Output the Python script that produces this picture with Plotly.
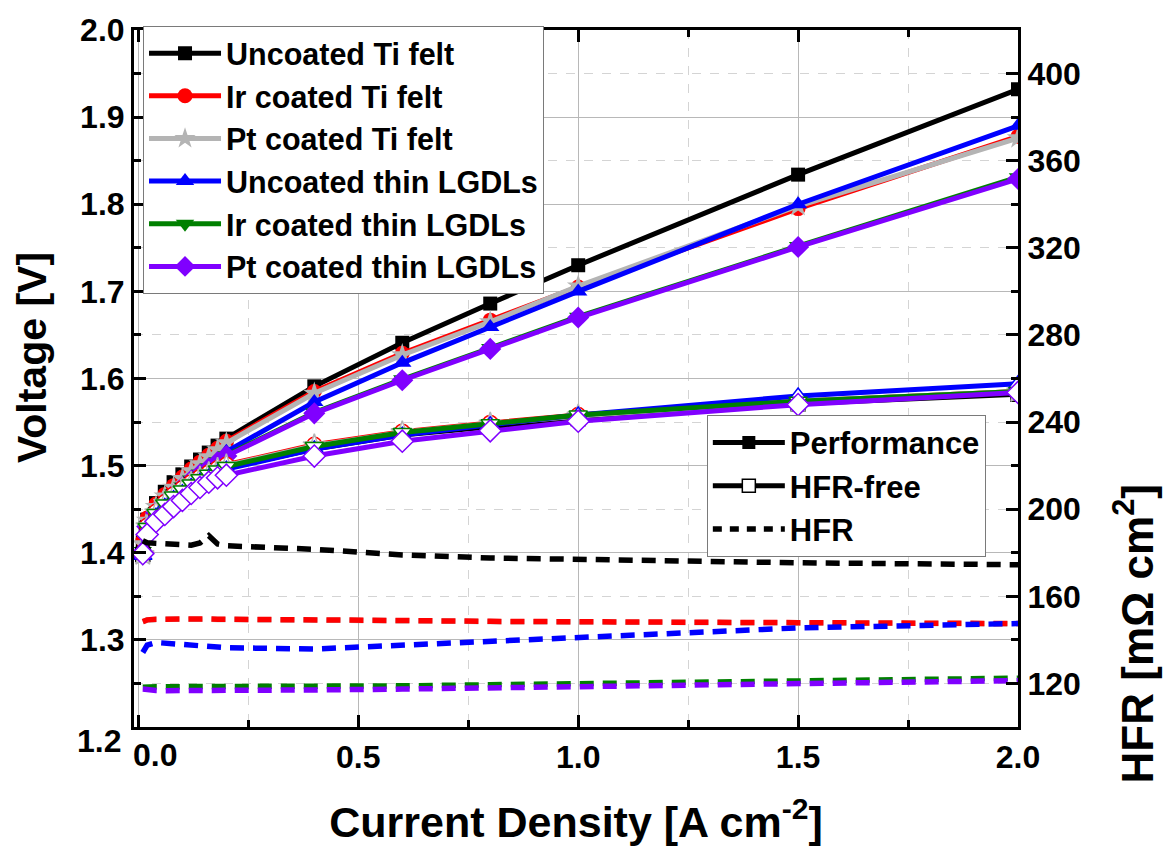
import plotly.graph_objects as go

# ---------------- data ----------------
current = [0.01, 0.02, 0.04, 0.06, 0.08, 0.10, 0.12, 0.14, 0.16, 0.18, 0.20,
           0.4, 0.6, 0.8, 1.0, 1.5, 2.0]

names = ["Uncoated Ti felt", "Ir coated Ti felt", "Pt coated Ti felt",
         "Uncoated thin LGDLs", "Ir coated thin LGDLs", "Pt coated thin LGDLs"]

x_tick_vals = [0.0, 0.5, 1.0, 1.5, 2.0]
x_tick_text = ["0.0", "0.5", "1.0", "1.5", "2.0"]
y_tick_vals = [1.2, 1.3, 1.4, 1.5, 1.6, 1.7, 1.8, 1.9, 2.0]
y_tick_text = ["1.2", "1.3", "1.4", "1.5", "1.6", "1.7", "1.8", "1.9", "2.0"]

# Performance (V)
uncoated_ti_perf = [1.412, 1.438, 1.457, 1.470, 1.481, 1.490, 1.499, 1.507, 1.515, 1.523, 1.531, 1.591, 1.641, 1.686, 1.730, 1.834, 1.932]
ir_ti_perf = [1.414, 1.440, 1.456, 1.467, 1.477, 1.487, 1.496, 1.504, 1.512, 1.520, 1.528, 1.585, 1.629, 1.667, 1.705, 1.795, 1.878]
pt_ti_perf = [1.410, 1.437, 1.453, 1.465, 1.475, 1.485, 1.494, 1.502, 1.510, 1.518, 1.526, 1.583, 1.627, 1.665, 1.706, 1.798, 1.876]
uncoated_lgdl_perf = [1.405, 1.432, 1.448, 1.459, 1.469, 1.477, 1.485, 1.492, 1.499, 1.506, 1.516, 1.573, 1.618, 1.659, 1.700, 1.800, 1.890]
ir_lgdl_perf = [1.402, 1.431, 1.447, 1.458, 1.468, 1.476, 1.484, 1.491, 1.498, 1.505, 1.512, 1.561, 1.599, 1.635, 1.671, 1.752, 1.831]
pt_lgdl_perf = [1.401, 1.430, 1.446, 1.457, 1.467, 1.475, 1.483, 1.490, 1.497, 1.504, 1.511, 1.560, 1.598, 1.634, 1.670, 1.751, 1.829]

# HFR-free voltage (V)
uncoated_ti_free = [1.398, 1.428, 1.444, 1.455, 1.464, 1.471, 1.478, 1.484, 1.489, 1.494, 1.497, 1.519, 1.535, 1.545, 1.554, 1.571, 1.582]
ir_ti_free = [1.399, 1.431, 1.447, 1.458, 1.467, 1.474, 1.481, 1.487, 1.492, 1.497, 1.501, 1.524, 1.539, 1.549, 1.558, 1.574, 1.585]
pt_ti_free = [1.398, 1.430, 1.446, 1.457, 1.466, 1.473, 1.480, 1.486, 1.491, 1.496, 1.500, 1.523, 1.538, 1.548, 1.557, 1.574, 1.585]
uncoated_lgdl_free = [1.397, 1.426, 1.442, 1.453, 1.462, 1.469, 1.476, 1.482, 1.487, 1.492, 1.496, 1.519, 1.535, 1.547, 1.558, 1.580, 1.594]
ir_lgdl_free = [1.396, 1.429, 1.445, 1.456, 1.465, 1.472, 1.479, 1.485, 1.490, 1.495, 1.499, 1.522, 1.538, 1.548, 1.558, 1.574, 1.585]
pt_lgdl_free = [1.399, 1.421, 1.436, 1.444, 1.453, 1.460, 1.468, 1.475, 1.481, 1.486, 1.489, 1.511, 1.528, 1.540, 1.551, 1.570, 1.584]

# HFR (mOhm cm2)
uncoated_ti_hfr = [185.5, 184.6, 184.3, 184.1, 183.9, 183.7, 183.5, 184.5, 187.8, 184.0, 183.2, 181.6, 179.0, 177.6, 176.8, 175.4, 174.5]
ir_ti_hfr = [148.4, 149.2, 149.5, 149.6, 149.6, 149.6, 149.6, 149.6, 149.6, 149.5, 149.5, 149.3, 148.9, 148.5, 148.2, 147.9, 147.5]
pt_ti_hfr = [148.3, 149.1, 149.4, 149.5, 149.5, 149.5, 149.5, 149.5, 149.5, 149.4, 149.4, 149.2, 148.8, 148.4, 148.1, 147.8, 147.4]
uncoated_lgdl_hfr = [134.2, 137.6, 138.8, 138.5, 138.0, 137.6, 137.2, 136.9, 136.7, 136.5, 136.4, 135.8, 137.5, 139.3, 141.0, 145.5, 147.5]
ir_lgdl_hfr = [118.2, 118.4, 118.5, 118.5, 118.5, 118.5, 118.5, 118.5, 118.5, 118.5, 118.5, 118.6, 118.9, 119.4, 119.9, 121.0, 122.4]
pt_lgdl_hfr = [117.4, 117.0, 116.8, 116.7, 116.7, 116.7, 116.7, 116.7, 116.7, 116.7, 116.7, 117.0, 117.4, 118.0, 118.7, 120.1, 121.3]

perf = [uncoated_ti_perf, ir_ti_perf, pt_ti_perf, uncoated_lgdl_perf, ir_lgdl_perf, pt_lgdl_perf]
free = [uncoated_ti_free, ir_ti_free, pt_ti_free, uncoated_lgdl_free, ir_lgdl_free, pt_lgdl_free]
hfr = [uncoated_ti_hfr, ir_ti_hfr, pt_ti_hfr, uncoated_lgdl_hfr, ir_lgdl_hfr, pt_lgdl_hfr]

colors = ["#000000", "#ff0000", "#b4b4b4", "#0000ff", "#008000", "#8000ff"]
symbols = ["square", "circle", "star", "triangle-up", "triangle-down", "diamond"]
msizes = [14, 15, 17, 16, 16, 17]

FONT = "Liberation Sans, Arial, sans-serif"

fig = go.Figure()

# HFR dashed lines (right axis); gray drawn first so red covers it
hfr_order = [2, 0, 1, 3, 4, 5]
for i in hfr_order:
    fig.add_trace(go.Scatter(
        x=current, y=hfr[i], yaxis="y2", mode="lines",
        line=dict(color=colors[i], width=5.5, dash="14px,9px"),
        showlegend=False, hoverinfo="skip"))

# Performance (filled markers)
for i in range(6):
    fig.add_trace(go.Scatter(
        x=current, y=perf[i], mode="lines+markers", name=names[i],
        line=dict(color=colors[i], width=5),
        marker=dict(symbol=symbols[i], size=msizes[i], color=colors[i]),
        legend="legend"))

# HFR-free (hollow markers)
for i in range(6):
    fig.add_trace(go.Scatter(
        x=current, y=free[i], mode="lines+markers",
        line=dict(color=colors[i], width=5),
        marker=dict(symbol=symbols[i], size=msizes[i], color="white",
                    line=dict(color=colors[i], width=1.5)),
        showlegend=False))

# Style legend (legend2)
fig.add_trace(go.Scatter(x=[None], y=[None], mode="lines+markers", name="Performance",
                         line=dict(color="black", width=5),
                         marker=dict(symbol="square", size=13, color="black"),
                         legend="legend2"))
fig.add_trace(go.Scatter(x=[None], y=[None], mode="lines+markers", name="HFR-free",
                         line=dict(color="black", width=5),
                         marker=dict(symbol="square", size=13, color="white",
                                     line=dict(color="black", width=1.5)),
                         legend="legend2"))
fig.add_trace(go.Scatter(x=[None], y=[None], mode="lines", name="HFR",
                         line=dict(color="black", width=5.5, dash="9px,8px"),
                         legend="legend2"))

axis_common = dict(
    showline=True, linecolor="black", linewidth=3,
    ticks="inside", tickwidth=2.5, ticklen=12, tickcolor="black",
    tickfont=dict(family=FONT, size=32, color="black", weight="bold"),
    zeroline=False,
)

fig.update_layout(
    width=1163, height=851,
    margin=dict(l=134, r=145, t=24, b=119),
    paper_bgcolor="white", plot_bgcolor="white",
    font=dict(family=FONT, color="black"),
    xaxis=dict(
        **axis_common,
        range=[-0.01, 2.0], tickmode="array",
        tickvals=x_tick_vals, ticktext=[""] + x_tick_text[1:],
        mirror="ticks",
        showgrid=True, gridcolor="#b8b8b8", gridwidth=1,
        minor=dict(dtick=0.25, tick0=0, ticks="inside", ticklen=7, tickwidth=2.5,
                   tickcolor="black", showgrid=True, gridcolor="#d4d4d4",
                   griddash="dash", gridwidth=1),
        title=dict(text="Current Density [A cm<sup>-2</sup>]", standoff=33,
                   font=dict(family=FONT, size=43, color="black", weight="bold")),
    ),
    yaxis=dict(
        **axis_common,
        range=[1.2, 2.0], tickmode="array",
        tickvals=y_tick_vals, ticktext=[""] + y_tick_text[1:],
        showgrid=True, gridcolor="#b8b8b8", gridwidth=1,
        minor=dict(dtick=0.05, tick0=1.2, ticks="inside", ticklen=7, tickwidth=2.5,
                   tickcolor="black", showgrid=False),
    ),
    yaxis2=dict(
        **axis_common,
        overlaying="y", side="right",
        range=[100, 420], dtick=40, tick0=0,
        showgrid=True, gridcolor="#d4d4d4", griddash="dash", gridwidth=1,
        minor=dict(dtick=20, tick0=0, ticks="inside", ticklen=7, tickwidth=2.5,
                   tickcolor="black", showgrid=False),
    ),
    legend=dict(
        x=0.0102, y=1.006, xanchor="left", yanchor="top",
        bgcolor="white", bordercolor="#7a7a7a", borderwidth=1,
        font=dict(family=FONT, size=30.5, color="black", weight="bold"),
        tracegroupgap=0, itemwidth=72,
    ),
    legend2=dict(
        x=0.648, y=0.448, xanchor="left", yanchor="top",
        bgcolor="white", bordercolor="#7a7a7a", borderwidth=1,
        font=dict(family=FONT, size=31, color="black", weight="bold"),
        tracegroupgap=0, itemwidth=72,
    ),
    annotations=[
        dict(text="Voltage [V]", xref="paper", yref="paper",
             x=-0.116, y=0.53, xanchor="center", yanchor="middle", textangle=-90,
             showarrow=False,
             font=dict(family=FONT, size=41, color="black", weight="bold")),
        dict(text="HFR [mΩ cm<sup>2</sup>]", xref="paper", yref="paper",
             x=1.131, y=0.134, xanchor="center", yanchor="middle", textangle=-90,
             showarrow=False,
             font=dict(family=FONT, size=44, color="black", weight="bold")),
        dict(text=x_tick_text[0], xref="paper", yref="paper",
             x=(155 - 134) / 884, y=-0.04, xanchor="center", yanchor="middle",
             showarrow=False,
             font=dict(family=FONT, size=32, color="black", weight="bold")),
        dict(text=y_tick_text[0], xref="paper", yref="paper",
             x=-0.012, y=-0.02, xanchor="right", yanchor="middle",
             showarrow=False,
             font=dict(family=FONT, size=32, color="black", weight="bold")),
    ],
)

fig.write_html("out.html")
